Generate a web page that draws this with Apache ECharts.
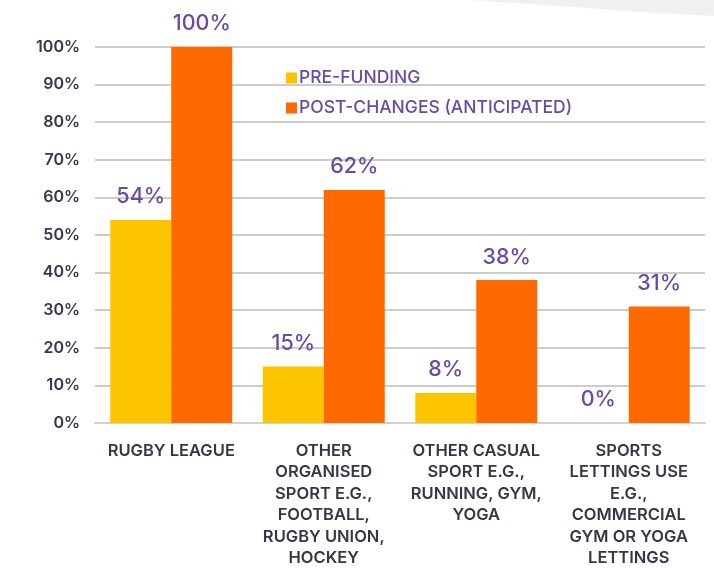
<!DOCTYPE html>
<html style="height: 100%">

<head>
    <meta charset="utf-8">
    <script src="https://cdn.jsdelivr.net/npm/echarts@6/dist/echarts.min.js"></script>
</head>

<body style="height: 100%; margin: 0; background: #fff">
    <div id="main" style="width: 714px; height: 569px"></div>
    <script type="text/javascript">
        var categories = [
            'RUGBY LEAGUE',
            'OTHER\nORGANISED\nSPORT E.G.,\nFOOTBALL,\nRUGBY UNION,\nHOCKEY',
            'OTHER CASUAL\nSPORT E.G.,\nRUNNING, GYM,\nYOGA',
            'SPORTS\nLETTINGS USE\nE.G.,\nCOMMERCIAL\nGYM OR YOGA\nLETTINGS'
        ];
        var preFunding = [54, 15, 8, 0];
        var postChanges = [100, 62, 38, 31];
        var yTicks = [0, 10, 20, 30, 40, 50, 60, 70, 80, 90, 100];

        var myChart = echarts.init(document.getElementById('main'));

        var fontFamily = 'Inter, "Noto Sans", sans-serif';
        var labelPurple = '#6b4aa3';

        // 数据标签样式（两组柱子共用）
        var barLabel = {
            show: true,
            position: 'top',
            distance: 12,
            color: labelPurple,
            fontSize: 21.5,
            fontWeight: 500,
            fontFamily: fontFamily,
            formatter: '{c}%'
        };

        var option = {
            animation: false,
            textStyle: { fontFamily: fontFamily },
            graphic: [{
                // 右上角浅灰色背景装饰
                type: 'polygon',
                silent: true,
                z: -10,
                shape: {
                    points: [[470, 0], [714, 0], [714, 16], [640, 12], [560, 6]]
                },
                style: { fill: '#f0f0f2' }
            }],
            grid: {
                left: 95,
                right: 9,
                top: 47,
                bottom: 139,
                containLabel: false
            },
            legend: {
                orient: 'vertical',
                left: 281,
                top: 64,
                itemWidth: 11,
                itemHeight: 11,
                itemGap: 12,
                icon: 'rect',
                textStyle: {
                    color: labelPurple,
                    fontSize: 17.5,
                    fontWeight: 500,
                    fontFamily: fontFamily,
                    padding: [0, 0, 0, -3]
                },
                data: ['PRE-FUNDING', 'POST-CHANGES (ANTICIPATED)']
            },
            xAxis: {
                type: 'category',
                data: categories,
                axisTick: { show: false },
                axisLine: { lineStyle: { color: '#d3cedb', width: 2 } },
                axisLabel: {
                    interval: 0,
                    margin: 17,
                    color: '#3b3448',
                    fontSize: 16.5,
                    fontWeight: 600,
                    lineHeight: 21.5,
                    fontFamily: fontFamily
                }
            },
            yAxis: {
                type: 'value',
                min: 0,
                max: 100,
                interval: 10,
                axisLine: { show: false },
                axisTick: { show: false },
                axisLabel: {
                    margin: 15,
                    color: '#3b3350',
                    fontSize: 16,
                    fontWeight: 600,
                    fontFamily: fontFamily,
                    formatter: function (v) {
                        return yTicks.indexOf(v) >= 0 ? v + '%' : '';
                    }
                },
                splitLine: { lineStyle: { color: '#cccccc', width: 2 } }
            },
            series: [{
                name: 'PRE-FUNDING',
                type: 'bar',
                data: preFunding,
                barWidth: 61,
                barGap: '0%',
                itemStyle: { color: '#fdc500' },
                label: barLabel
            }, {
                name: 'POST-CHANGES (ANTICIPATED)',
                type: 'bar',
                data: postChanges,
                barWidth: 61,
                barGap: '0%',
                itemStyle: { color: '#ff6a00' },
                label: barLabel
            }]
        };

        myChart.setOption(option);
    </script>
</body>

</html>
